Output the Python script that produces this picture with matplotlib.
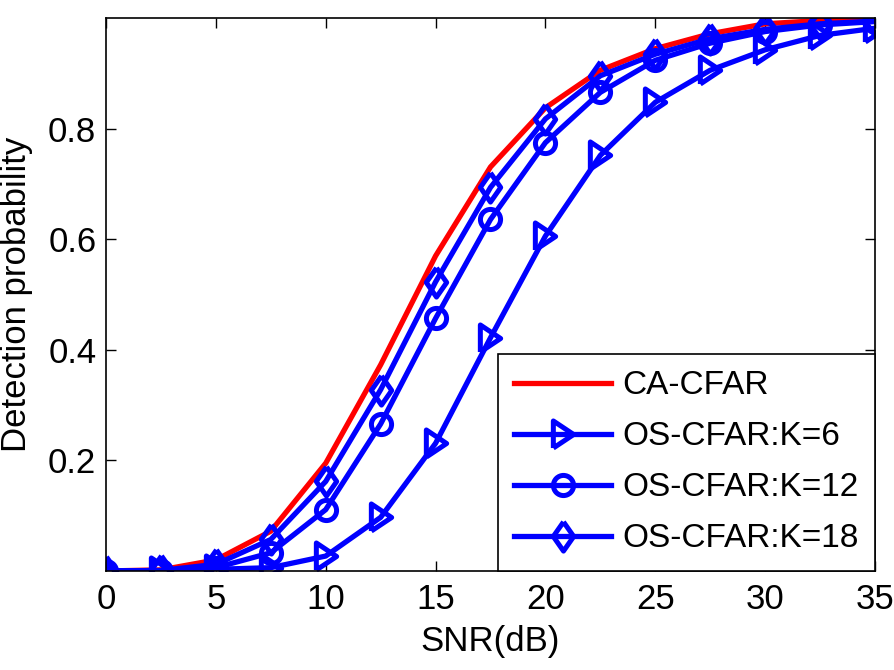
import numpy as np
import matplotlib
matplotlib.use("Agg")
import matplotlib.pyplot as plt

plt.rcParams["font.family"] = ["Liberation Sans", "DejaVu Sans"]
plt.rcParams["font.size"] = 25

# SNR axis and detection probabilities
snr = [0, 2.5, 5, 7.5, 10, 12.5, 15, 17.5, 20, 22.5, 25, 27.5, 30, 32.5, 35]
ca_cfar = [0.0, 0.002, 0.02, 0.072, 0.195, 0.373, 0.57, 0.731, 0.838, 0.906,
           0.945, 0.972, 0.99, 0.996, 1.0]
os_k6 = [0.0, 0.0, 0.003, 0.006, 0.027, 0.097, 0.231, 0.422, 0.606, 0.752,
         0.848, 0.906, 0.943, 0.969, 0.982]
os_k12 = [0.0, 0.0, 0.006, 0.033, 0.111, 0.266, 0.457, 0.636, 0.775, 0.866,
          0.924, 0.955, 0.976, 0.988, 0.994]
os_k18 = [0.0, 0.001, 0.012, 0.057, 0.162, 0.328, 0.523, 0.694, 0.818, 0.896,
          0.935, 0.963, 0.98, 0.99, 0.995]

xticks = [0, 5, 10, 15, 20, 25, 30, 35]
yticks = [0.2, 0.4, 0.6, 0.8]

# matlab-like marker shapes (taller than wide)
tri_right = [(-0.375, -0.5), (0.375, 0.0), (-0.375, 0.5), (-0.375, -0.5)]
diamond = [(0.0, 0.5), (0.35, 0.0), (0.0, -0.5), (-0.35, 0.0), (0.0, 0.5)]

fig = plt.figure(figsize=(8.94, 6.70), dpi=100)
ax = fig.add_axes([0.1186, 0.1478, 0.8601, 0.8249])

lw = 3.8
mew = 3.6
ax.plot(snr, ca_cfar, color="red", linewidth=lw, label="CA-CFAR")
ax.plot(snr, os_k6, color="blue", linewidth=lw, marker=tri_right, markersize=19.5,
        markerfacecolor="none", markeredgewidth=mew, label="OS-CFAR:K=6")
ax.plot(snr, os_k12, color="blue", linewidth=lw, marker="o", markersize=14.5,
        markerfacecolor="none", markeredgewidth=mew, label="OS-CFAR:K=12")
ax.plot(snr, os_k18, color="blue", linewidth=lw, marker=diamond, markersize=21,
        markerfacecolor="none", markeredgewidth=mew, label="OS-CFAR:K=18")

ax.set_xlim(0, 35)
ax.set_ylim(0, 1)
ax.set_xticks(xticks)
ax.set_yticks(yticks)
ax.set_yticklabels([f"{v:.1f}" for v in yticks])
ax.tick_params(direction="in", length=7, width=1, top=True, right=True)
ax.tick_params(axis="x", pad=9)
ax.tick_params(axis="y", pad=7)
for s in ax.spines.values():
    s.set_linewidth(1.2)

ax.set_xlabel("SNR(dB)", labelpad=6)
ax.set_ylabel("Detection probability", labelpad=11)

leg = ax.legend(loc="lower right", borderaxespad=0, fancybox=False,
                framealpha=1, edgecolor="black", fontsize=24, handlelength=2.9,
                handletextpad=0.33, labelspacing=0.6, borderpad=0.5)
leg.get_frame().set_linewidth(1.2)

fig.savefig("out.png", dpi=100)
